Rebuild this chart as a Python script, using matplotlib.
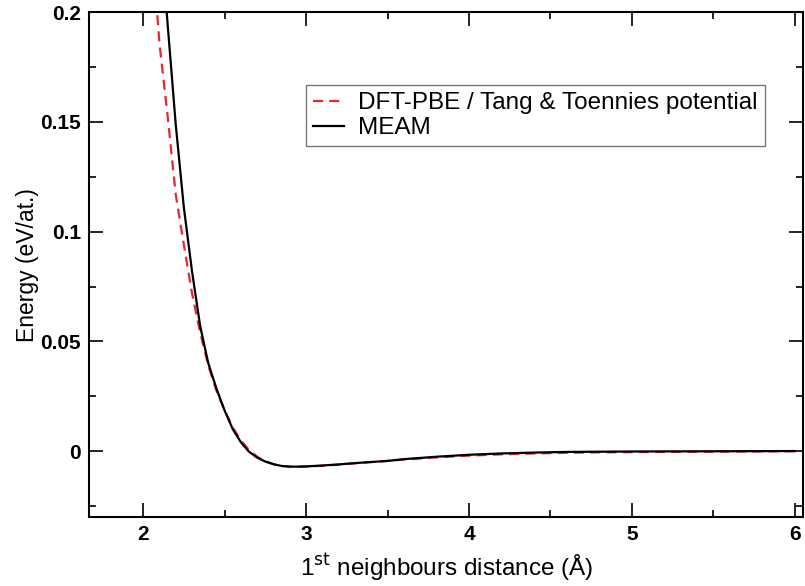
import matplotlib
matplotlib.use("Agg")
import matplotlib.pyplot as plt
from matplotlib.ticker import MultipleLocator

plt.rcParams['font.family'] = ['Liberation Sans', 'DejaVu Sans']

# DFT-PBE / Tang & Toennies reference curve
dft_r = [2.06, 2.10, 2.15, 2.20, 2.25, 2.30, 2.35, 2.40, 2.45, 2.50, 2.55, 2.60,
         2.65, 2.70, 2.75, 2.80, 2.85, 2.90, 2.95, 3.00, 3.10, 3.20, 3.30, 3.40,
         3.50, 3.60, 3.80, 4.00, 4.20, 4.40, 4.60, 4.80, 5.00, 5.50, 6.00]
dft_e = [0.226, 0.186, 0.153, 0.117, 0.094, 0.072, 0.054, 0.039, 0.0275, 0.0185,
         0.0108, 0.0048, 0.0005, -0.0026, -0.0046, -0.0060, -0.0068, -0.0071,
         -0.0072, -0.0071, -0.0067, -0.0062, -0.0056, -0.0050, -0.0045, -0.0039,
         -0.0029, -0.0021, -0.0015, -0.0011, -0.0008, -0.0006, -0.0005, -0.0003,
         -0.0001]

# MEAM curve
meam_r = [2.12, 2.15, 2.20, 2.25, 2.30, 2.35, 2.40, 2.45, 2.50, 2.55, 2.60, 2.65,
          2.70, 2.75, 2.80, 2.85, 2.90, 2.95, 3.00, 3.10, 3.20, 3.30, 3.40, 3.50,
          3.60, 3.80, 4.00, 4.20, 4.40, 4.60, 4.80, 5.00, 5.50, 6.00]
meam_e = [0.224, 0.195, 0.149, 0.111, 0.082, 0.057, 0.040, 0.0285, 0.0185, 0.0100,
          0.0040, -0.0003, -0.0030, -0.0048, -0.0060, -0.0068, -0.0071, -0.0071,
          -0.0070, -0.0066, -0.0061, -0.0055, -0.0050, -0.0045, -0.0037, -0.0026,
          -0.0017, -0.0011, -0.0007, -0.0004, -0.0003, -0.0002, -0.0001, 0.0000]

fig = plt.figure(figsize=(8.05, 5.86), dpi=100)
ax = fig.add_axes([0.111, 0.118, 0.8865, 0.861])

ax.plot(dft_r, dft_e, color='#e8262e', lw=1.6, dashes=(4.5, 2.8),
        label='DFT-PBE / Tang & Toennies potential')
ax.plot(meam_r, meam_e, color='black', lw=1.6, label='MEAM')

ax.set_xlim(1.67, 6.05)
ax.set_ylim(-0.03, 0.2)
ax.xaxis.set_major_locator(MultipleLocator(1))
ax.xaxis.set_minor_locator(MultipleLocator(0.5))
ax.yaxis.set_minor_locator(MultipleLocator(0.025))
ax.set_yticks([0, 0.05, 0.1, 0.15, 0.2])
ax.set_yticklabels(['0', '0.05', '0.1', '0.15', '0.2'])

ax.tick_params(which='both', direction='in', top=True, right=True, width=1.2)
ax.tick_params(which='major', length=10, labelsize=15, pad=6)
ax.tick_params(which='minor', length=5)
for lab in ax.get_xticklabels() + ax.get_yticklabels():
    lab.set_fontweight('bold')
for sp in ax.spines.values():
    sp.set_linewidth(1.5)

ax.set_xlabel(r'1$^{\rm st}$ neighbours distance (Å)', fontsize=17.5, labelpad=5)
ax.set_ylabel('Energy (eV/at.)', fontsize=16.5, labelpad=1)

leg = ax.legend(loc='upper right', bbox_to_anchor=(0.947, 0.856), borderaxespad=0,
                fancybox=False, fontsize=17.5, handlelength=1.25, handletextpad=0.6,
                borderpad=0.3, labelspacing=0.12)
leg.get_frame().set_edgecolor('#555555')
leg.get_frame().set_linewidth(1.0)

fig.savefig('out.png', dpi=100)
